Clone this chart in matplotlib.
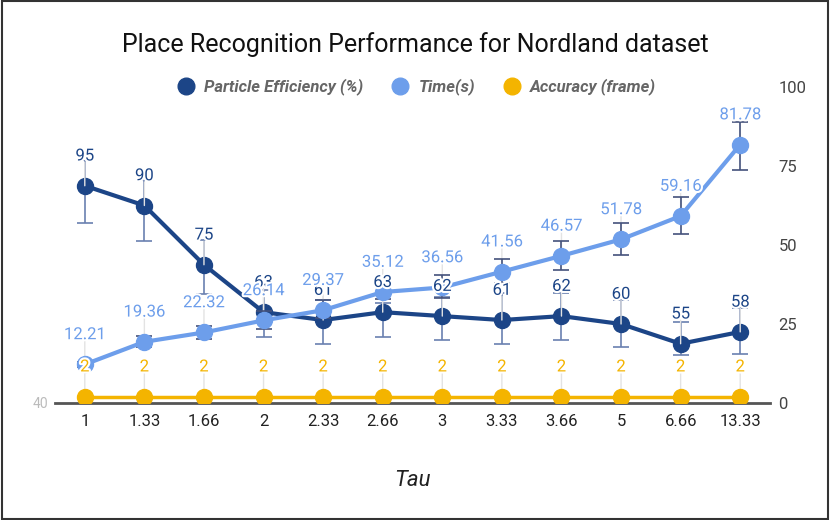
import matplotlib
matplotlib.use("Agg")
import matplotlib.pyplot as plt
import matplotlib.patheffects as pe
from matplotlib.lines import Line2D
from matplotlib.patches import Rectangle
import numpy as np

plt.rcParams['font.family'] = ['Roboto', 'DejaVu Sans']

categories = ["1", "1.33", "1.66", "2", "2.33", "2.66", "3", "3.33", "3.66", "5", "6.66", "13.33"]
particle_eff = [95, 90, 75, 63, 61, 63, 62, 61, 62, 60, 55, 58]
particle_low = [85.6, 81.0, 67.6, 56.7, 54.9, 56.7, 56.0, 54.9, 56.0, 54.2, 52.2, 52.4]
particle_high = [101.5, 96.5, 81.3, 68.6, 66.1, 65.3, 66.8, 67.8, 67.8, 66.1, 60.5, 64.1]
time_s = [12.21, 19.36, 22.32, 26.14, 29.37, 35.12, 36.56, 41.56, 46.57, 51.78, 59.16, 81.78]
time_low = [11.4, 17.7, 20.3, 23.3, 27.0, 33.0, 33.2, 38.0, 42.1, 46.8, 53.5, 73.7]
time_high = [13.0, 21.2, 24.4, 29.0, 32.6, 37.5, 40.5, 45.6, 51.3, 57.0, 65.2, 88.9]
accuracy = [2, 2, 2, 2, 2, 2, 2, 2, 2, 2, 2, 2]
right_ticks = [0, 25, 50, 75, 100]
left_ticks = [40]

c_pe = '#1c4587'
c_time = '#6d9eeb'
c_acc = '#f4b400'
c_err_pe = '#6a80b0'
c_err_t = '#44527c'

fig = plt.figure(figsize=(8.3, 5.2), dpi=100)
ax = fig.add_axes([55/830, 1 - 403/520, 715/830, 316/520])
ax2 = ax.twinx()

x = np.arange(len(categories))

# Particle efficiency (left axis)
pe_arr = np.array(particle_eff, dtype=float)
ax.errorbar(x, pe_arr, yerr=[pe_arr - np.array(particle_low), np.array(particle_high) - pe_arr],
            fmt='none', ecolor=c_err_pe, elinewidth=1.2, capsize=6, capthick=1.2, zorder=2)
ax.plot(x, pe_arr, color=c_pe, lw=3, marker='o', ms=11.5, zorder=3)

# Time (right axis)
t_arr = np.array(time_s, dtype=float)
ax2.errorbar(x, t_arr, yerr=[t_arr - np.array(time_low), np.array(time_high) - t_arr],
             fmt='none', ecolor=c_err_t, elinewidth=1.2, capsize=6, capthick=1.2, zorder=2)
ax2.plot(x, t_arr, color=c_time, lw=3, marker='o', ms=11.5, zorder=3)

# Accuracy (right axis)
ax2.plot(x, accuracy, color=c_acc, lw=2.5, marker='o', ms=11.5, zorder=3)

ax.set_xlim(-0.5, len(categories) - 0.5)
ax.set_ylim(40, 120)
ax2.set_ylim(0, 100)

halo = [pe.withStroke(linewidth=3, foreground='white')]

def label_series(xs, ys, trans, color, fmt, z):
    for xi, yi in zip(xs, ys):
        ax2.annotate('', xy=(xi, yi), xycoords=trans, xytext=(0, 17), textcoords='offset points',
                     arrowprops=dict(arrowstyle='-', color='#e3e3e3', lw=1, shrinkA=0, shrinkB=0),
                     zorder=1)
        t = ax2.annotate(fmt(yi), xy=(xi, yi), xycoords=trans, xytext=(0, 16),
                         textcoords='offset points', ha='center', va='bottom',
                         color=color, fontsize=12, zorder=z)
        t.set_path_effects(halo)

label_series(x, particle_eff, ax.transData, c_pe, lambda v: f"{v:g}", 5)
label_series(x, time_s, ax2.transData, c_time, lambda v: f"{v:.2f}", 6)
label_series(x, accuracy, ax2.transData, c_acc, lambda v: f"{v:g}", 6)

# Axes styling
for a in (ax, ax2):
    for s in ('top', 'left', 'right'):
        a.spines[s].set_visible(False)
ax2.spines['bottom'].set_visible(False)
ax.spines['bottom'].set_color('#555555')
ax.spines['bottom'].set_linewidth(2)
ax.spines['bottom'].set_zorder(0)

ax.set_xticks(x)
ax.set_xticklabels(categories)
ax.tick_params(axis='x', length=0, pad=8, labelsize=12, labelcolor='#222222')
ax.set_yticks(left_ticks)
ax.tick_params(axis='y', length=0, pad=5, labelsize=10, labelcolor='#bbbbbb')
ax2.set_yticks(right_ticks)
ax2.tick_params(axis='y', length=0, pad=6, labelsize=12, labelcolor='#444444')

ax.set_xlabel('Tau', fontsize=16, style='italic', color='#222222')
ax.xaxis.set_label_coords(0.5, -(480 - 403) / 316)
ax.xaxis.label.set_va('center')

fig.text(0.5, 1 - 45/520, 'Place Recognition Performance for Nordland dataset',
         ha='center', va='center', fontsize=18, color='#111111')

handles = [Line2D([], [], ls='none', marker='o', ms=12, color=c) for c in (c_pe, c_time, c_acc)]
leg = fig.legend(handles, ['Particle Efficiency (%)', 'Time(s)', 'Accuracy (frame)'],
                 loc='center', bbox_to_anchor=(416/830, 1 - 87/520), ncol=3, frameon=False,
                 handletextpad=0.5, columnspacing=1.6, handlelength=1.2,
                 prop=dict(size=12, weight='bold', style='italic'))
for t in leg.get_texts():
    t.set_color('#666666')

fig.patches.append(Rectangle((0.002, 0.002), 0.996, 0.996, transform=fig.transFigure,
                             fill=False, edgecolor='#333333', lw=1.5))

fig.savefig('out.png', dpi=100)
